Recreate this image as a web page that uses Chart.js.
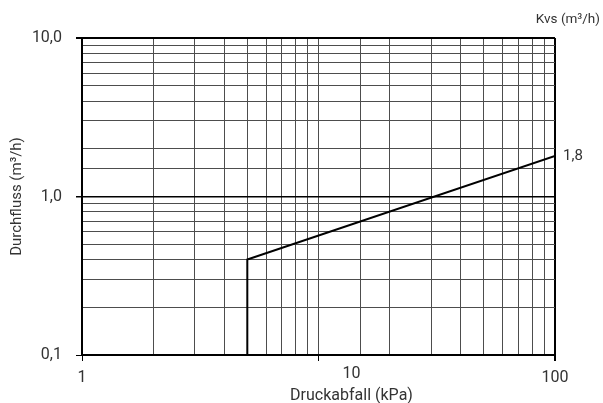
<!DOCTYPE html>
<html><head><meta charset="utf-8">
<script src="https://cdn.jsdelivr.net/npm/chart.js@4/dist/chart.umd.min.js"></script>
<style>html,body{margin:0;padding:0;background:#fff}#wrap{width:603px;height:403px}</style>
</head><body><div id="wrap"><canvas id="c" width="603" height="403"></canvas></div>
<script>
// ---- data ----
const pressureDrop = [5, 5, 100];          // kPa
const flowRate = [0.1, 0.4, 1.8];          // m³/h
const seriesLabels = ["1,8"];
const xTickValues = [1, 10, 100];
const xTickLabels = ["1", "10", "100"];
const yTickValues = [0.1, 1, 10];
const yTickLabels = ["0,1", "1,0", "10,0"];
const xTitle = "Druckabfall (kPa)";
const yTitle = "Durchfluss (m³/h)";
const cornerTitle = "Kvs (m³/h)";

const TEXT = '#333';
const FONT = 'Roboto';
const GRID = '#4d4d4d';

function near(v, list) {
  return list.findIndex(t => Math.abs(Math.log10(v) - Math.log10(t)) < 1e-6);
}

const points = pressureDrop.map((x, i) => ({x: x, y: flowRate[i]}));

const textPlugin = {
  id: 'texts',
  afterDraw(chart) {
    const ctx = chart.ctx, xs = chart.scales.x, ys = chart.scales.y;
    ctx.save();
    ctx.fillStyle = TEXT;
    ctx.textBaseline = 'middle';
    ctx.textAlign = 'center';
    ctx.font = '16px ' + FONT;
    xTickValues.forEach((v, i) => {
      const shift = v === 10 ? 33 : 0;
      const lift = v === 10 ? -4 : 0;
      ctx.fillText(xTickLabels[i], xs.getPixelForValue(v) + shift, ys.bottom + 23 + lift);
    });
    ctx.font = '16px ' + FONT;
    ctx.fillText(xTitle, xs.getPixelForValue(10) + 33, 396);
    ctx.textAlign = 'right';
    ctx.font = '13.5px ' + FONT;
    ctx.fillText(cornerTitle, 600, 20);
    ctx.textAlign = 'left';
    ctx.font = '15px ' + FONT;
    const last = points[points.length - 1];
    ctx.fillText(seriesLabels[0], xs.getPixelForValue(last.x) + 8, ys.getPixelForValue(last.y));
    ctx.restore();
  }
};

new Chart(document.getElementById('c'), {
  type: 'scatter',
  data: {
    datasets: [{
      data: points,
      showLine: true,
      borderColor: '#000',
      borderWidth: 2,
      pointRadius: 0,
      tension: 0,
      fill: false
    }]
  },
  options: {
    responsive: false,
    animation: false,
    devicePixelRatio: 1,
    layout: {padding: {top: 38, right: 48, left: 0, bottom: 0}},
    plugins: {legend: {display: false}, tooltip: {enabled: false}},
    scales: {
      x: {
        type: 'logarithmic',
        min: 1, max: 100,
        afterFit(s) { s.height = 48; },
        border: {color: '#000', width: 2},
        grid: {
          color: c => (c.tick && near(c.tick.value, [100]) >= 0) ? '#000' : GRID,
          lineWidth: c => (c.tick && near(c.tick.value, [100]) >= 0) ? 2 : 1,
          tickColor: c => (c.tick && near(c.tick.value, xTickValues) >= 0) ? '#000' : 'rgba(0,0,0,0)',
          tickLength: 6,
          drawTicks: true
        },
        ticks: {display: false, autoSkip: false}
      },
      y: {
        type: 'logarithmic',
        min: 0.1, max: 10,
        afterFit(s) { s.width = 82; },
        border: {color: '#000', width: 2},
        title: {display: true, text: yTitle, color: TEXT, font: {family: FONT, size: 15}, padding: {top: 8, bottom: 0}},
        grid: {
          color: c => (c.tick && near(c.tick.value, [1, 10]) >= 0) ? '#000' : GRID,
          lineWidth: c => (c.tick && near(c.tick.value, [10]) >= 0) ? 2 : (c.tick && near(c.tick.value, [1]) >= 0 ? 1.5 : 1),
          tickColor: c => (c.tick && near(c.tick.value, yTickValues) >= 0) ? '#000' : 'rgba(0,0,0,0)',
          tickLength: 6,
          drawTicks: true
        },
        ticks: {
          autoSkip: false,
          padding: 14,
          color: TEXT,
          font: {family: FONT, size: 16},
          callback: v => { const i = near(v, yTickValues); return i >= 0 ? yTickLabels[i] : ''; }
        }
      }
    }
  },
  plugins: [textPlugin]
});
</script></body></html>
